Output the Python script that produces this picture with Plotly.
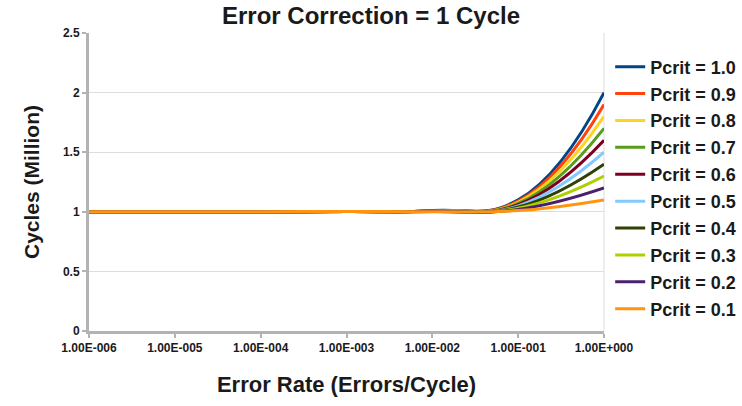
import plotly.graph_objects as go

categories = ["1.00E-006", "1.00E-005", "1.00E-004", "1.00E-003", "1.00E-002", "1.00E-001", "1.00E+000"]

series_names = ["Pcrit = 1.0", "Pcrit = 0.9", "Pcrit = 0.8", "Pcrit = 0.7", "Pcrit = 0.6",
                "Pcrit = 0.5", "Pcrit = 0.4", "Pcrit = 0.3", "Pcrit = 0.2", "Pcrit = 0.1"]

p10 = [1.0, 1.0, 1.0, 1.003, 1.01, 1.10, 2.0]
p09 = [1.0, 1.0, 1.0, 1.003, 1.009, 1.09, 1.9]
p08 = [1.0, 1.0, 1.0, 1.003, 1.008, 1.08, 1.8]
p07 = [1.0, 1.0, 1.0, 1.003, 1.007, 1.07, 1.7]
p06 = [1.0, 1.0, 1.0, 1.003, 1.006, 1.06, 1.6]
p05 = [1.0, 1.0, 1.0, 1.003, 1.005, 1.05, 1.5]
p04 = [1.0, 1.0, 1.0, 1.003, 1.004, 1.04, 1.4]
p03 = [1.0, 1.0, 1.0, 1.003, 1.003, 1.03, 1.3]
p02 = [1.0, 1.0, 1.0, 1.003, 1.002, 1.02, 1.2]
p01 = [1.0, 1.0, 1.0, 1.003, 1.001, 1.01, 1.1]
series_values = [p10, p09, p08, p07, p06, p05, p04, p03, p02, p01]

colors = ["#004586", "#ff420e", "#ffd320", "#579d1c", "#7e0021",
          "#83caff", "#314004", "#aecf00", "#4b1f6f", "#ff950e"]

y_ticks = [0, 0.5, 1, 1.5, 2, 2.5]
y_tick_labels = ["0", "0.5", "1", "1.5", "2", "2.5"]

FONT = "Liberation Sans"
TXT = "#1a1a1a"

fig = go.Figure()
for name, vals, col in zip(series_names, series_values, colors):
    fig.add_trace(go.Scatter(
        x=categories, y=vals, name=name, mode="lines",
        line=dict(color=col, width=3, shape="spline", smoothing=1.3),
        legendgroup=name,
    ))

fig.update_layout(
    width=742, height=406,
    margin=dict(l=89, r=138, t=33, b=75, autoexpand=False),
    paper_bgcolor="white", plot_bgcolor="white",
    font=dict(family=FONT, color=TXT),
    title=dict(text="Error Correction = 1 Cycle", x=0.5, xanchor="center",
               y=0.962, yanchor="middle", yref="container",
               font=dict(family=FONT, size=24, weight="bold", color=TXT)),
    showlegend=True,
    legend=dict(x=1.012, xanchor="left", y=0.48, yanchor="middle",
                font=dict(family=FONT, size=18, weight="bold", color=TXT),
                tracegroupgap=0.5, bgcolor="rgba(0,0,0,0)"),
    xaxis=dict(
        type="category", range=[0, 6],
        showline=True, linecolor="#b3b3b3", linewidth=3,
        ticks="outside", tickcolor="#b3b3b3", ticklen=4, tickwidth=2,
        showgrid=False, zeroline=False,
        tickfont=dict(family=FONT, size=12, weight="bold", color=TXT),
        title=dict(text="Error Rate (Errors/Cycle)", standoff=23,
                   font=dict(family=FONT, size=22, weight="bold", color=TXT)),
    ),
    yaxis=dict(
        range=[0, 2.5], tickvals=y_ticks, ticktext=y_tick_labels,
        showline=True, linecolor="#b3b3b3", linewidth=3,
        ticks="outside", tickcolor="#b3b3b3", ticklen=4, tickwidth=2,
        showgrid=True, gridcolor="#dddddd", gridwidth=1, zeroline=False,
        tickfont=dict(family=FONT, size=12, weight="bold", color=TXT),
        title=dict(text="Cycles (Million)", standoff=18,
                   font=dict(family=FONT, size=21, weight="bold", color=TXT)),
    ),
    shapes=[dict(type="line", xref="paper", yref="paper", x0=1, x1=1, y0=0, y1=1,
                 line=dict(color="#dddddd", width=1), layer="below")],
)

fig.write_html("out.html")
